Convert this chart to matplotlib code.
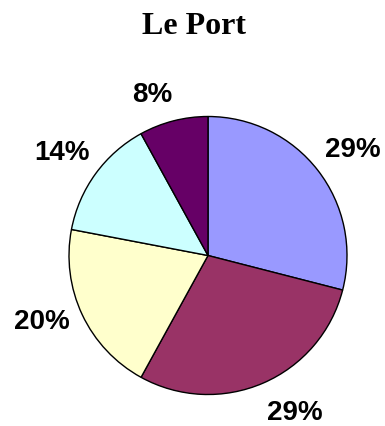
import matplotlib
matplotlib.use("Agg")
import matplotlib.pyplot as plt
import numpy as np

title = "Le Port"
shares = [29, 29, 20, 14, 8]
colors = ["#9999FF", "#993366", "#FFFFCC", "#CCFFFF", "#660066"]

# label placement: angular shift (deg) from the wedge middle and radial distance
label_shift = [-1.8, 5.3, -3.3, 1.0, 4.7]
label_dist = [1.29, 1.295, 1.285, 1.28, 1.22]

fig = plt.figure(figsize=(3.85, 4.26), dpi=100)
fig.patch.set_facecolor("white")

W, H = 385, 426
cx, cy, r = 208, 255.5, 139
ax = fig.add_axes([(cx - r) / W, (H - cy - r) / H, 2 * r / W, 2 * r / H])

wedges, _ = ax.pie(shares, colors=colors, startangle=90, counterclock=False,
                   wedgeprops=dict(edgecolor="black", linewidth=1.0))
ax.set_xlim(-1, 1)
ax.set_ylim(-1, 1)
ax.set_aspect("equal")
ax.axis("off")

total = sum(shares)
for w, v, sh, d in zip(wedges, shares, label_shift, label_dist):
    mid = np.deg2rad((w.theta1 + w.theta2) / 2 + sh)
    ax.text(d * np.cos(mid), d * np.sin(mid), f"{round(100 * v / total)}%",
            ha="center", va="center", fontsize=20, fontweight="bold",
            family="Liberation Sans", clip_on=False)

fig.text(194 / W, 1 - 27 / H, title, ha="center", va="center",
         fontsize=23, fontweight="bold", family="Liberation Serif")

fig.savefig("out.png", dpi=100)
